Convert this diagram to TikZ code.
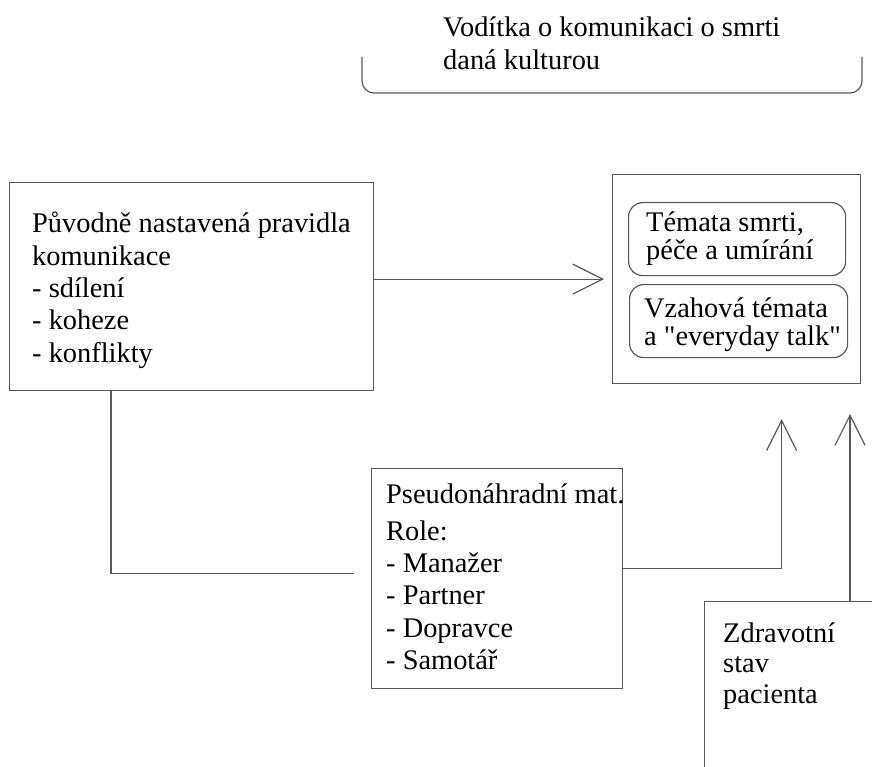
\documentclass[tikz,border=0pt]{standalone}
\usepackage{fontspec}
\setmainfont{Liberation Serif}
\usetikzlibrary{arrows.meta}
\newcommand\mlines[2]{\vtop{\baselineskip=#1\lineskiplimit=-1000pt\lineskip=0pt #2}}
\tikzset{
  ln/.style={draw=black!65, line width=1.2pt},
  box/.style={ln, rectangle, inner sep=0pt, anchor=north west},
  rbox/.style={box, rounded corners=14pt},
  txt/.style={anchor=base west, inner sep=0pt, font=\fontsize{28.4}{32}\selectfont, text=black},
  arr/.style={ln, -{Straight Barb[length=30pt,width=30pt,line width=1.2pt]}}
}
\begin{document}
\begin{tikzpicture}[x=1pt,y=-1pt]
\useasboundingbox (0,0) rectangle (872,767);
\clip (0,0) rectangle (872,767);
% top bracket
\draw[ln, rounded corners=12pt] (362,57) -- (362,93) -- (862,93) -- (862,57);
\node[txt] (T) at (443,37) {\mlines{33pt}{\hbox{Vodítka o komunikaci o smrti}\hbox{daná kulturou}}};
% left box
\node[box, minimum width=364pt, minimum height=208pt] (L) at (9,182) {};
\node[txt] (Lt) at (32,233) {\mlines{32.3pt}{\hbox{Původně nastavená pravidla}\hbox{komunikace}\hbox{- sdílení}\hbox{- koheze}\hbox{- konflikty}}};
% right box
\node[box, minimum width=248pt, minimum height=209pt] (R) at (612,174) {};
\node[rbox, minimum width=217pt, minimum height=73pt] (R1) at (628,202) {};
\node[txt] (R1t) at (646,232) {\mlines{28pt}{\hbox{Témata smrti,}\hbox{péče a umírání}}};
\node[rbox, minimum width=218pt, minimum height=73pt] (R2) at (629,284) {};
\node[txt] (R2t) at (644,317) {\mlines{28pt}{\hbox{Vzahová témata}\hbox{a \textquotedbl everyday talk\textquotedbl}}};
% middle box
\node[box, minimum width=251pt, minimum height=220pt] (M) at (371,468) {};
\node[txt] (Mt) at (386,503) {\mlines{32.3pt}{\hbox{Pseudonáhradní mat.}\vskip5pt\hbox{Role:}\hbox{- Manažer}\hbox{- Partner}\hbox{- Dopravce}\hbox{- Samotář}}};
% bottom right box
\node[box, minimum width=220pt, minimum height=220pt] (Z) at (704,601) {};
\node[txt] (Zt) at (723,642) {\mlines{30.5pt}{\hbox{Zdravotní}\hbox{stav}\hbox{pacienta}}};
% connectors
\coordinate (t2) at (850,414);
\draw[arr] (L.east |- R.west) -- ([xshift=-8pt]R.west);
\draw[ln] ([xshift=102pt]L.south west) |- ([xshift=-17pt,yshift=5pt]M.west);
\draw[arr] ([yshift=10pt]M.east) -| ([xshift=45pt,yshift=-35pt]R.south);
\draw[arr] (Z.north west -| t2) -- (t2);
\end{tikzpicture}
\end{document}
